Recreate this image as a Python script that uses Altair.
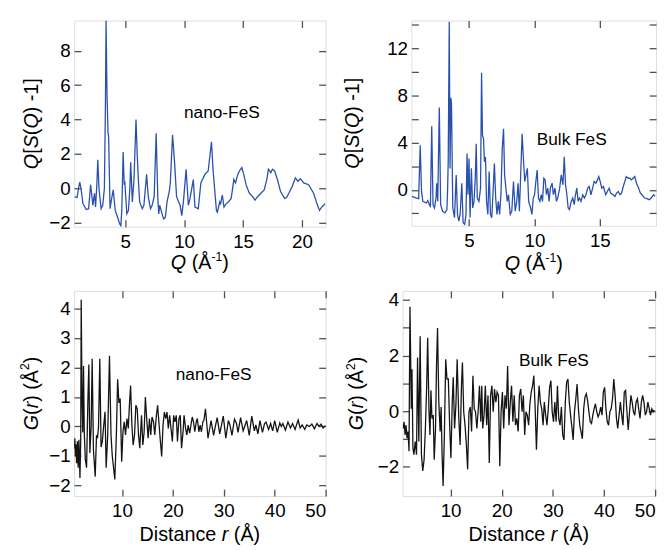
import altair as alt
import pandas as pd

# ---------------- data ----------------
# nano-FeS  Q[S(Q)-1]  : (Q, value)
sq_nano = [(0.73,-0.5),(0.92,-0.55),(1.05,0.0),(1.15,0.35),(1.25,0.0),(1.42,-0.9),(1.70,-1.25),(1.90,-1.2),(2.07,0.2),(2.20,-0.6),
 (2.26,-1.0),(2.40,-0.3),(2.49,-1.1),(2.60,0.2),(2.68,1.65),(2.78,0.0),(2.96,-1.2),(3.10,-1.0),(3.24,0.0),(3.33,5.0),
 (3.38,9.76),(3.46,5.5),(3.55,3.2),(3.60,3.0),(3.72,-1.2),(3.83,-0.7),(3.99,-0.1),(4.16,-1.3),(4.36,-1.7),(4.55,-2.1),
 (4.64,-2.2),(4.72,-1.2),(4.83,2.1),(4.92,0.2),(4.97,0.4),(5.14,-1.5),(5.28,-1.3),(5.40,0.0),(5.47,1.5),(5.61,-0.8),
 (5.75,0.5),(5.92,4.0),(6.02,2.0),(6.12,0.5),(6.23,-0.8),(6.45,-1.2),(6.59,-1.0),(6.82,0.8),(6.96,-0.5),(7.15,-1.2),
 (7.29,-1.0),(7.46,-0.5),(7.63,3.2),(7.77,-0.6),(7.85,-1.5),(7.93,-1.0),(8.13,-1.5),(8.27,-1.8),(8.41,-1.7),(8.55,-0.8),
 (8.74,-0.2),(8.83,0.3),(9.02,3.1),(9.19,1.5),(9.36,-0.5),(9.53,-0.8),(9.66,-1.0),(9.80,-1.6),(9.94,-0.8),(10.17,1.1),
 (10.36,-1.0),(10.50,-0.6),(10.78,0.5),(10.92,-1.1),(11.20,-1.2),(11.42,0.3),(11.76,0.8),(12.04,1.0),(12.32,2.7),(12.46,1.0),
 (12.74,-1.3),(12.82,-1.4),(13.02,-0.8),(13.10,-0.9),(13.24,-0.4),(13.38,-1.1),(13.58,-0.9),(13.77,-0.8),(13.99,-0.6),(14.22,0.5),
 (14.36,0.3),(14.55,0.8),(14.69,1.0),(14.89,1.2),(15.06,0.8),(15.25,0.2),(15.53,-0.3),(15.81,-0.5),(16.01,-0.7),(16.23,-0.5),
 (16.51,-0.3),(16.79,-0.1),(17.01,0.5),(17.15,1.1),(17.35,0.9),(17.49,1.1),(17.68,1.0),(17.91,0.5),(18.18,-0.2),(18.52,-0.6),
 (18.69,-0.55),(18.88,-0.3),(19.16,0.1),(19.44,0.6),(19.64,0.4),(19.86,0.55),(20.14,0.3),(20.56,0.2),(20.98,-0.3),(21.26,-0.9),
 (21.48,-1.3),(21.68,-1.1),(21.96,-0.9)]

# Bulk FeS  Q[S(Q)-1]
sq_bulk = [(0.64,-0.56),(0.97,-0.70),(1.15,-0.75),(1.27,3.77),(1.37,-0.14),(1.47,-0.98),(1.73,-1.12),(1.85,-0.92),(1.98,-1.31),(2.05,-1.40),
 (2.15,5.39),(2.25,-1.26),(2.36,-1.54),(2.48,-0.70),(2.53,0.56),(2.61,-0.98),(2.73,6.98),(2.83,-1.26),(2.98,-1.82),(3.16,-1.96),
 (3.31,-1.68),(3.36,-0.14),(3.41,2.37),(3.49,14.25),(3.55,1.8),(3.61,7.8),(3.66,7.3),(3.76,-1.5),(3.89,-2.37),(4.02,1.26),
 (4.12,-2.09),(4.22,-2.65),(4.32,-2.09),(4.45,0.56),(4.55,-2.79),(4.67,-2.93),(4.77,-2.09),(4.85,3.07),(4.92,-0.42),(5.00,2.65),
 (5.08,-2.37),(5.18,1.82),(5.28,-1.54),(5.38,-0.98),(5.48,0.98),(5.55,3.91),(5.63,-0.70),(5.76,-0.98),(5.88,0.14),(5.96,9.92),
 (6.03,4.61),(6.11,4.33),(6.18,2.37),(6.26,2.79),(6.34,-0.98),(6.44,-2.09),(6.54,1.54),(6.64,-2.09),(6.74,-2.37),(6.84,-0.14),
 (6.94,2.23),(7.04,-0.70),(7.14,-2.09),(7.24,-0.98),(7.34,-2.09),(7.44,-0.42),(7.54,3.49),(7.64,5.17),(7.72,1.26),(7.82,0.14),
 (7.92,-0.98),(8.02,-0.42),(8.15,-2.09),(8.27,-1.82),(8.40,0.70),(8.53,-1.82),(8.65,-0.98),(8.75,0.56),(8.85,-1.82),(8.95,1.26),
 (9.06,4.75),(9.16,2.65),(9.26,0.70),(9.36,1.26),(9.46,1.82),(9.56,-0.98),(9.71,-1.54),(9.81,-2.09),(9.91,-0.70),(10.01,-0.42),
 (10.11,0.70),(10.21,1.68),(10.31,-0.70),(10.42,-0.98),(10.52,-0.42),(10.62,-0.98),(10.72,0.98),(10.82,0.84),(10.92,-0.42),(11.02,0.14),
 (11.12,-0.98),(11.22,0.14),(11.35,0.56),(11.45,-0.42),(11.57,0.14),(11.68,-0.98),(11.78,-0.70),(11.93,0.14),(12.05,1.26),(12.18,0.42),
 (12.28,2.79),(12.38,0.42),(12.48,-0.42),(12.58,-1.54),(12.68,-1.68),(12.81,-0.98),(12.93,-0.70),(13.04,-1.26),(13.14,-0.42),(13.24,0.14),
 (13.34,-0.98),(13.44,-0.70),(13.56,-0.98),(13.69,-0.42),(13.82,-0.70),(13.94,-0.42),(14.07,0.14),(14.19,0.28),(14.32,-0.42),(14.45,0.14),
 (14.57,0.70),(14.70,0.56),(14.82,0.84),(14.92,1.12),(15.03,0.70),(15.15,0.14),(15.28,0.28),(15.45,-0.42),(15.58,-0.14),(15.71,0.14),
 (15.83,-0.28),(16.01,-0.42),(16.16,-0.56),(16.28,-0.28),(16.41,-0.14),(16.54,-0.42),(16.66,-0.28),(16.79,0.28),(16.91,0.70),(17.02,1.12),
 (17.17,0.98),(17.29,0.98),(17.42,0.84),(17.54,0.98),(17.67,1.12),(17.80,0.56),(17.97,0.14),(18.10,-0.28),(18.22,-0.42),(18.43,-0.70),
 (18.60,-0.75),(18.78,-0.84),(18.93,-0.70),(19.11,-0.42),(19.23,-0.56)]

# nano-FeS  G(r) : (r, G)
gr_nano = [(0.65,-0.75),(0.75,-0.4),(0.85,-1.0),(0.95,-0.6),(1.1,-1.25),(1.25,-0.5),(1.4,-1.4),(1.55,-0.45),(1.75,-1.75),(1.9,-0.5),
 (2.0,4.3),(2.15,1.0),(2.3,-0.2),(2.45,2.05),(2.6,-0.2),(2.8,-1.1),(3.05,-1.4),(3.3,0.8),(3.5,2.1),(3.7,-0.9),
 (3.95,0.0),(4.15,2.3),(4.4,-0.8),(4.75,-1.7),(5.0,-0.3),(5.2,-0.4),(5.4,0.0),(5.65,2.3),(5.9,-0.7),(6.15,-0.5),
 (6.4,0.0),(6.68,0.5),(6.9,-1.4),(7.2,-0.3),(7.55,2.4),(7.85,-0.3),(8.1,-1.0),(8.35,-1.4),(8.6,-1.8),(8.9,-0.3),
 (9.15,1.6),(9.4,0.8),(9.65,0.95),(9.95,-1.2),(10.2,-0.18),(10.45,0.16),(10.7,-0.29),(10.98,0.27),(11.24,-0.07),(11.5,0.83),
 (11.7,1.39),(11.95,0.05),(12.2,-0.63),(12.47,-0.29),(12.73,0.72),(13.0,0.6),(13.25,-0.29),(13.5,-0.74),(13.84,0.38),(14.1,-0.63),
 (14.36,-0.18),(14.6,1.0),(14.9,0.16),(15.14,-0.4),(15.4,0.27),(15.66,-0.29),(15.9,0.32),(16.2,0.16),(16.44,-0.29),(16.77,0.38),
 (17.0,0.72),(17.3,0.05),(17.55,-0.51),(17.8,-1.02),(18.07,0.05),(18.33,0.49),(18.6,0.27),(18.85,0.49),(19.1,-0.07),(19.37,0.38),
 (19.63,-0.07),(19.9,-0.51),(20.15,0.38),(20.4,0.16),(20.67,0.38),(20.9,-0.51),(21.2,0.27),(21.45,0.38),(21.7,-0.74),(22.0,-0.18),
 (22.2,0.38),(22.5,-0.07),(22.75,-0.29),(23.0,0.05),(23.3,-0.23),(23.8,0.32),(24.05,0.16),(24.3,-0.18),(24.6,0.16),(24.8,0.27),
 (25.1,-0.18),(25.35,0.05),(25.6,-0.18),(25.9,0.16),(26.1,0.21),(26.4,0.6),(26.9,-0.4),(27.5,0.2),(28.0,-0.3),(28.4,0.05),
 (28.7,0.3),(29.2,-0.25),(29.6,0.1),(29.9,0.35),(30.4,-0.4),(30.9,0.2),(31.2,0.05),(31.6,-0.3),(32.1,0.25),(32.5,0.1),
 (32.8,-0.2),(33.3,0.3),(33.8,-0.15),(34.1,0.0),(34.5,0.2),(35.0,-0.3),(35.5,0.35),(36.0,-0.15),(36.3,0.05),(36.7,-0.25),
 (37.1,0.2),(37.6,-0.2),(38.0,0.1),(38.3,0.15),(38.8,-0.1),(39.2,0.1),(39.6,-0.15),(40.0,0.2),(40.5,-0.2),(41.0,0.12),
 (41.3,0.0),(41.6,0.1),(42.1,-0.12),(42.6,0.15),(43.1,-0.05),(43.5,0.1),(44.0,-0.1),(44.6,0.22),(45.0,-0.05),(45.4,0.05),
 (45.9,-0.1),(46.3,0.05),(46.8,0.0),(47.3,0.08),(47.8,-0.08),(48.3,0.1),(48.7,0.0),(49.1,0.08),(49.5,-0.05),(50.0,0.03)]

# Bulk FeS  G(r)
gr_bulk = [(0.71,-0.62),(0.90,-0.38),(1.09,-0.85),(1.28,-0.50),(1.47,-0.97),(1.67,-0.73),(1.86,-1.44),(2.05,3.76),(2.31,0.09),(2.44,1.51),
 (2.63,-1.33),(2.82,-1.56),(3.08,-1.09),(3.33,-1.56),(3.53,1.93),(3.78,-1.09),(4.04,2.70),(4.29,-1.56),(4.55,-2.15),(4.81,-1.74),
 (5.06,-0.62),(5.32,0.92),(5.51,2.64),(5.77,-0.02),(5.96,-0.85),(6.15,0.75),(6.35,-0.26),(6.60,-0.14),(6.79,-1.74),(7.05,-0.62),
 (7.24,1.63),(7.44,2.99),(7.69,0.33),(7.95,-0.73),(8.14,0.15),(8.33,-1.56),(8.53,-2.69),(8.78,-0.85),(9.04,1.87),(9.29,1.16),
 (9.55,1.16),(9.81,-0.50),(10.06,-1.68),(10.32,0.33),(10.51,1.22),(10.77,-0.62),(11.03,0.21),(11.28,1.87),(11.60,-0.26),(11.86,-1.21),
 (12.12,0.92),(12.31,1.75),(12.56,-0.02),(12.82,-0.50),(13.08,-1.21),(13.33,-2.09),(13.59,-0.02),(13.85,0.15),(14.10,-0.73),(14.36,1.28),
 (14.62,0.09),(14.87,-0.02),(15.13,-0.62),(15.38,-0.02),(15.64,0.92),(15.90,-0.38),(16.09,0.92),(16.28,-0.62),(16.54,-0.14),(16.79,0.92),
 (17.05,-0.50),(17.31,0.57),(17.56,-1.86),(17.82,0.57),(18.08,0.92),(18.33,-0.02),(18.59,0.80),(18.85,0.33),(19.10,0.69),(19.36,0.57),
 (19.62,-1.98),(19.87,-0.02),(20.13,0.69),(20.38,-0.62),(20.64,0.57),(20.90,0.09),(21.15,1.63),(21.41,-0.50),(21.67,0.33),(21.92,0.92),
 (22.18,-0.38),(22.44,0.57),(22.69,-0.50),(22.95,-0.26),(23.21,-0.73),(23.46,0.57),(23.72,0.80),(23.97,-0.02),(24.23,0.57),(24.49,-0.85),
 (24.74,-0.02),(25.00,-0.14),(25.26,-0.50),(25.51,0.27),(25.77,0.69),(26.03,0.92),(26.28,1.28),(26.54,0.09),(26.79,-1.38),(27.05,0.09),
 (27.31,0.92),(27.56,0.33),(27.82,0.09),(28.08,-0.50),(28.33,0.33),(28.59,-0.14),(28.85,-0.50),(29.10,0.09),(29.36,0.86),(29.62,1.10),
 (29.87,-0.02),(30.13,-0.38),(30.38,0.33),(30.64,-0.38),(30.90,0.92),(31.15,-0.26),(31.41,-0.50),(31.67,0.15),(31.92,-0.85),(32.18,-1.03),
 (32.44,0.33),(32.69,1.04),(32.95,1.16),(33.21,0.33),(33.46,-0.14),(33.72,-0.56),(33.97,-1.03),(34.23,-0.02),(34.49,0.45),(34.74,0.98),
 (35.00,0.09),(35.26,-0.50),(35.51,-0.73),(35.77,-0.99),(36.03,0.09),(36.28,0.51),(36.54,0.63),(36.79,0.39),(37.05,-0.02),(37.31,-0.38),
 (37.56,-0.44),(37.82,-0.14),(38.08,0.09),(38.33,0.27),(38.59,-0.02),(38.85,-0.20),(39.10,-0.08),(39.36,0.15),(39.62,-0.14),(39.87,0.69),
 (40.13,0.86),(40.38,0.09),(40.64,-0.38),(40.90,-0.50),(41.15,-0.02),(41.41,0.09),(41.67,0.45),(41.92,1.16),(42.18,0.57),(42.44,-0.26),
 (42.69,-0.62),(42.95,-0.14),(43.21,0.33),(43.46,-0.14),(43.72,-0.50),(43.97,0.69),(44.23,0.75),(44.49,-0.02),(44.74,-0.67),(45.00,-0.02),
 (45.26,0.57),(45.51,0.33),(45.77,-0.02),(46.03,-0.14),(46.28,0.33),(46.54,0.45),(46.79,0.09),(47.05,-0.26),(47.31,0.33),(47.56,0.57),
 (47.82,0.33),(48.08,-0.14),(48.33,-0.02),(48.59,0.33),(48.85,0.09),(49.10,-0.14),(49.36,0.09),(49.62,-0.02),(49.87,0.04)]

# tick values
xt_sq_nano = [5, 10, 15, 20]
yt_sq_nano = [-2, 0, 2, 4, 6, 8]
xt_sq_bulk = [5, 10, 15]
yt_sq_bulk_ticks = [-2, 0, 2, 4, 6, 8, 10, 12, 14]
yt_sq_bulk_labels = [0, 4, 8, 12]
xt_gr = [10, 20, 30, 40, 50]
yt_gr_nano = [-2, -1, 0, 1, 2, 3, 4]
yt_gr_bulk_ticks = [-2, -1, 0, 1, 2, 3, 4]
yt_gr_bulk_labels = [-2, 0, 2, 4]

# annotations (label, x, y in data units)
ann_sq_nano = ("nano-FeS", 13.2, 4.08)
ann_sq_bulk = ("Bulk FeS", 12.85, 3.82)
ann_gr_nano = ("nano-FeS", 28.0, 1.57)
ann_gr_bulk = ("Bulk FeS", 30.2, 1.61)

# ---------------- style ----------------
FONT = "Liberation Sans"
BLUE = "#2a50ae"
BLACK = "#141414"
FRAME = "#505050"
LABEL_FS = 19
TITLE_FS = 20
ANNOT_FS = 17.5

WID = {' ': 278, '(': 333, ')': 333, '[': 278, ']': 278, '-': 333, '1': 556, '2': 556,
       'Q': 778, 'S': 667, 'G': 778, 'r': 333, 'Å': 667, 'D': 722, 'i': 222, 's': 500,
       't': 278, 'a': 556, 'n': 556, 'c': 500, 'e': 556}


def tw(s, fs):
    return sum(WID.get(c, 556) for c in s) / 1000.0 * fs


def title_layers(segs, cx, cy, fs, vertical):
    sizes = [fs * 0.62 if st == 'sup' else fs for _, st in segs]
    widths = [tw(t, sz) for (t, _), sz in zip(segs, sizes)]
    total = sum(widths)
    out = []
    cum = 0.0
    for (t, st), sz, w in zip(segs, sizes, widths):
        lead = len(t) - len(t.lstrip(' '))
        shift = cum + tw(' ' * lead, sz)
        raise_ = 0.42 * fs if st == 'sup' else 0.0
        if vertical:
            x, y, ang = cx - raise_, cy + total / 2 - shift, 270
        else:
            x, y, ang = cx - total / 2 + shift, cy - raise_, 0
        out.append(
            alt.Chart(alt.Data(values=[{"k": 0}])).mark_text(
                text=t.strip(' '), font=FONT, fontSize=sz,
                fontStyle='italic' if st == 'i' else 'normal',
                align='left', baseline='alphabetic', angle=ang, color='black'
            ).encode(x=alt.value(x), y=alt.value(y))
        )
        cum += w
    return out


def panel(pairs, xdom, ydom, xvals, ylab, ytick, color, w, h, ann,
          xsegs, xt_y, ysegs, yt_x):
    df = pd.DataFrame(pairs, columns=["x", "y"])
    xs = alt.Scale(domain=xdom, nice=False, zero=False)
    ys = alt.Scale(domain=ydom, nice=False, zero=False)
    lab = dict(grid=False, domain=False, ticks=False, tickSize=0, title=None,
               labelFont=FONT, labelFontSize=LABEL_FS, labelColor='black', labelOverlap=False)
    tk = dict(grid=False, domain=False, labels=False, title=None, ticks=True,
              tickSize=7, tickWidth=1.3, tickColor=FRAME, offset=-7)
    base = alt.Chart(df)
    main = base.mark_line(color=color, strokeWidth=1.3, clip=True).encode(
        x=alt.X("x:Q", scale=xs, axis=alt.Axis(orient='bottom', values=xvals, labelPadding=6, **lab)),
        y=alt.Y("y:Q", scale=ys, axis=alt.Axis(orient='left', values=ylab, labelPadding=4, **lab)),
    )
    t1 = base.mark_line(opacity=0).encode(
        x=alt.X("x:Q", scale=xs, axis=alt.Axis(orient='bottom', values=xvals, **tk)),
        y=alt.Y("y:Q", scale=ys, axis=alt.Axis(orient='left', values=ytick, **tk)),
    )
    t2 = base.mark_line(opacity=0).encode(
        x=alt.X("x:Q", scale=xs, axis=alt.Axis(orient='top', values=xvals, **tk)),
        y=alt.Y("y:Q", scale=ys, axis=alt.Axis(orient='right', values=ytick, **tk)),
    )
    adf = pd.DataFrame([{"label": ann[0], "x": ann[1], "y": ann[2]}])
    an = alt.Chart(adf).mark_text(font=FONT, fontSize=ANNOT_FS, align='center',
                                  baseline='alphabetic', color='black').encode(
        x=alt.X("x:Q", scale=xs, axis=None),
        y=alt.Y("y:Q", scale=ys, axis=None),
        text="label:N",
    )
    layers = [main, t1, t2, an]
    layers += title_layers(xsegs, w / 2, xt_y, TITLE_FS, False)
    layers += title_layers(ysegs, yt_x, h / 2, TITLE_FS, True)
    return alt.layer(*layers).resolve_axis(x='independent', y='independent').properties(width=w, height=h)


XQ = [("Q", "i"), (" (Å", "n"), ("-1", "sup"), (")", "n")]
YQ = [("Q", "i"), ("[", "n"), ("S", "i"), ("(", "n"), ("Q", "i"), (") -1]", "n")]
XR = [("Distance ", "n"), ("r", "i"), (" (Å)", "n")]
YG = [("G", "i"), ("(", "n"), ("r", "i"), (") (Å", "n"), ("2", "sup"), (")", "n")]

p1 = panel(sq_nano, [0.67, 22.0], [-2.25, 9.76], xt_sq_nano, yt_sq_nano, yt_sq_nano, BLUE,
           255, 209, ann_sq_nano, XQ, 252, YQ, -37)
p2 = panel(sq_bulk, [0.6, 19.3], [-3.05, 14.35], xt_sq_bulk, yt_sq_bulk_labels, yt_sq_bulk_ticks, BLUE,
           248, 208, ann_sq_bulk, XQ, 253, YQ, -53)
p3 = panel(gr_nano, [0.6, 50], [-2.36, 4.6], xt_gr, yt_gr_nano, yt_gr_nano, BLACK,
           255, 208, ann_gr_nano, XR, 254, YG, -37)
p4 = panel(gr_bulk, [0.6, 50], [-3.05, 4.33], xt_gr, yt_gr_bulk_labels, yt_gr_bulk_ticks, BLACK,
           256, 208, ann_gr_bulk, XR, 254, YG, -40)

row1 = alt.hconcat(p1, p2, spacing=87, bounds="flush")
row2 = alt.hconcat(p3, p4, spacing=78, bounds="flush")

chart = alt.vconcat(row1, row2, spacing=14).configure_view(
    stroke=FRAME, strokeWidth=1.5
).configure(font=FONT).properties(
    padding={"left": 11, "top": 7, "right": 4, "bottom": 4}
)

chart.save("out.html", embed_options={"renderer": "svg", "actions": False})
